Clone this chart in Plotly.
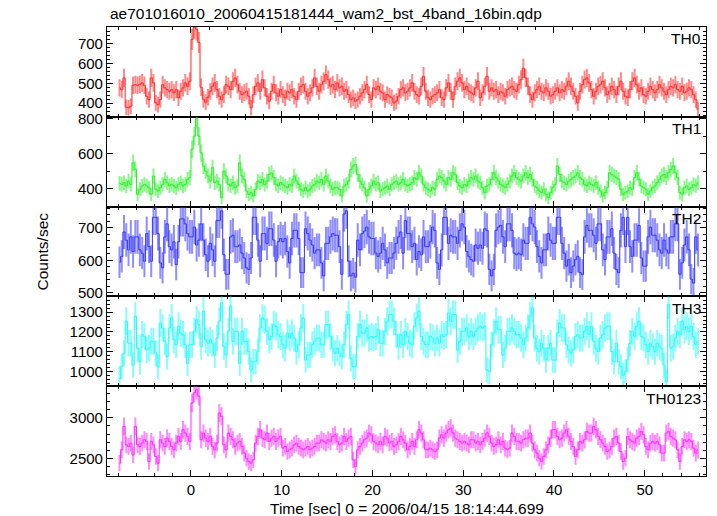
import numpy as np
import plotly.graph_objects as go
from plotly.subplots import make_subplots

# ---------------- data ----------------
BIN_SEC = 0.25          # 16 x 1/64 s WAM bins
T_START = -8.0
title_text = "ae701016010_20060415181444_wam2_bst_4band_16bin.qdp"
x_title = "Time [sec] 0 = 2006/04/15 18:14:44.699"
y_title = "Counts/sec"
band_names = ["TH0", "TH1", "TH2", "TH3", "TH0123"]

th0 = [
    477, 468, 527, 380, 377, 385, 490, 493, 490, 495, 502, 490, 435, 418, 527, 502,
    402, 393, 418, 493, 477, 468, 460, 468, 452, 468, 427, 460, 477, 502, 485, 510,
    720, 780, 770, 705, 480, 420, 405, 430, 460, 485, 502, 468, 435, 418, 443, 493,
    485, 468, 510, 527, 493, 460, 443, 452, 460, 435, 377, 443, 485, 502, 460, 518,
    477, 435, 410, 460, 493, 452, 435, 468, 443, 427, 460, 452, 468, 435, 418, 460,
    485, 493, 460, 435, 452, 477, 527, 485, 460, 493, 510, 543, 518, 485, 493, 468,
    502, 477, 485, 460, 468, 443, 418, 427, 410, 418, 435, 452, 468, 493, 443, 418,
    477, 468, 485, 460, 452, 418, 443, 435, 427, 402, 410, 435, 468, 477, 452, 460,
    477, 502, 460, 443, 435, 485, 535, 460, 427, 418, 435, 443, 452, 468, 427, 418,
    477, 502, 460, 418, 485, 510, 527, 502, 468, 485, 460, 452, 443, 477, 510, 427,
    452, 485, 535, 460, 477, 460, 468, 443, 460, 452, 435, 468, 477, 485, 468, 460,
    493, 518, 575, 527, 485, 443, 418, 452, 468, 485, 460, 452, 477, 460, 435, 443,
    460, 477, 452, 468, 460, 485, 510, 485, 460, 435, 402, 460, 493, 518, 527, 502,
    468, 435, 460, 485, 493, 510, 477, 443, 460, 485, 468, 443, 485, 510, 460, 435,
    427, 468, 510, 527, 493, 460, 477, 443, 435, 460, 485, 468, 452, 468, 493, 477,
    460, 443, 468, 485, 477, 493, 468, 460, 485, 452, 460, 477, 468, 443, 418, 370,
]

th1 = [
    430, 424, 434, 415, 443, 424, 548, 510, 367, 396, 415, 424, 415, 405, 367, 472,
    396, 386, 405, 424, 453, 434, 415, 424, 415, 405, 424, 434, 415, 424, 453, 463,
    625, 700, 800, 700, 605, 529, 500, 472, 443, 520, 434, 443, 424, 348, 500, 472,
    424, 415, 434, 405, 415, 548, 472, 453, 386, 367, 377, 358, 396, 443, 434, 453,
    424, 443, 481, 490, 463, 424, 415, 434, 424, 415, 405, 424, 415, 472, 443, 424,
    396, 386, 405, 386, 396, 415, 424, 443, 434, 453, 424, 472, 443, 415, 396, 405,
    405, 396, 358, 415, 424, 443, 510, 529, 538, 481, 443, 424, 405, 358, 396, 415,
    443, 424, 434, 386, 396, 405, 415, 396, 424, 434, 443, 424, 434, 453, 424, 415,
    424, 434, 463, 453, 491, 472, 424, 405, 396, 386, 405, 396, 453, 472, 463, 443,
    424, 463, 453, 491, 481, 434, 415, 405, 424, 415, 443, 463, 453, 472, 443, 434,
    405, 377, 415, 424, 453, 491, 463, 443, 424, 415, 405, 424, 443, 472, 491, 463,
    453, 443, 472, 491, 463, 481, 453, 415, 405, 386, 377, 396, 367, 348, 377, 405,
    424, 529, 481, 443, 434, 424, 443, 453, 463, 472, 491, 463, 453, 424, 415, 434,
    424, 415, 434, 405, 386, 358, 377, 405, 491, 481, 472, 463, 453, 396, 367, 377,
    386, 405, 396, 463, 491, 453, 415, 405, 396, 367, 386, 405, 415, 434, 453, 472,
    481, 463, 491, 510, 529, 491, 463, 377, 367, 405, 415, 396, 405, 424, 415, 434,
]

th2 = [
    594, 612, 687, 662, 632, 672, 627, 672, 672, 632, 622, 597, 682, 642, 597, 732,
    732, 682, 592, 577, 672, 712, 642, 632, 657, 587, 657, 727, 727, 712, 682, 672,
    672, 702, 647, 662, 712, 662, 617, 597, 652, 632, 597, 722, 722, 752, 617, 557,
    557, 672, 677, 642, 642, 647, 622, 607, 577, 572, 607, 732, 732, 662, 597, 682,
    682, 652, 697, 697, 662, 597, 657, 667, 657, 667, 627, 592, 667, 692, 692, 667,
    562, 562, 697, 682, 662, 647, 622, 632, 632, 592, 552, 652, 652, 672, 682, 677,
    677, 642, 557, 742, 752, 597, 552, 560, 548, 662, 632, 682, 690, 702, 672, 667,
    667, 622, 612, 622, 652, 632, 592, 607, 607, 622, 652, 672, 687, 622, 722, 682,
    682, 642, 652, 602, 627, 617, 672, 642, 642, 657, 702, 692, 592, 572, 632, 732,
    732, 652, 677, 672, 672, 652, 692, 712, 702, 627, 612, 602, 597, 647, 637, 647,
    637, 697, 692, 572, 552, 572, 692, 702, 707, 672, 642, 712, 712, 692, 622, 617,
    622, 617, 662, 652, 652, 732, 712, 702, 642, 612, 592, 632, 632, 682, 662, 652,
    652, 732, 732, 652, 622, 582, 602, 562, 582, 602, 612, 562, 556, 672, 707, 692,
    692, 677, 652, 712, 712, 632, 602, 672, 672, 697, 622, 572, 562, 692, 732, 642,
    732, 642, 612, 662, 662, 707, 607, 582, 582, 672, 702, 677, 677, 662, 632, 622,
    662, 632, 622, 672, 672, 712, 712, 557, 592, 647, 672, 632, 542, 530, 672, 632,
]

th3 = [
    964, 1024, 1092, 1254, 1143, 1143, 1032, 1280, 1117, 1049, 1186, 1177, 1109, 1117, 1152, 1152,
    1092, 1024, 1245, 1220, 1152, 1075, 1220, 1271, 1160, 1135, 1229, 1194, 1186, 1135, 1040, 1135,
    1135, 1203, 1262, 1237, 1126, 1305, 1160, 1143, 1160, 1143, 1083, 1169, 1254, 1348, 1126, 1083,
    1203, 1331, 1152, 1203, 1203, 1041, 1203, 1152, 1152, 1100, 1007, 1049, 1049, 1100, 1220, 1271,
    1262, 1203, 1160, 1177, 1237, 1229, 1186, 1177, 1135, 1117, 1194, 1169, 1194, 1169, 1100, 1135,
    1220, 1271, 1058, 1083, 1083, 1135, 1152, 1169, 1169, 1135, 1135, 1237, 1237, 1177, 1117, 1092,
    1117, 1092, 1075, 1135, 1237, 1288, 1066, 1024, 1024, 1177, 1237, 1194, 1194, 1220, 1169, 1177,
    1169, 1177, 1211, 1143, 1143, 1203, 1254, 1288, 1288, 1254, 1186, 1126, 1186, 1135, 1203, 1177,
    1143, 1135, 1229, 1271, 1305, 1177, 1152, 1135, 1135, 1177, 1169, 1143, 1169, 1143, 1186, 1177,
    1186, 1296, 1254, 1288, 1288, 1109, 1152, 1203, 1203, 1220, 1177, 1203, 1177, 1203, 1220, 1229,
    1220, 1229, 1007, 998, 1135, 1194, 1254, 1211, 1211, 1083, 1117, 1203, 1203, 1220, 1203, 1186,
    1186, 1169, 1135, 1169, 1220, 1280, 1322, 1169, 1117, 1100, 1143, 1117, 1058, 1117, 1143, 1058,
    1057, 1194, 1245, 1220, 1220, 1135, 1109, 1092, 1109, 1177, 1186, 1169, 1169, 1203, 1229, 1186,
    1229, 1152, 1117, 1100, 1169, 1186, 1220, 1229, 1229, 1100, 1049, 1143, 1049, 1024, 981, 998,
    1058, 1143, 1203, 1177, 1229, 1254, 1177, 1169, 1135, 1100, 1143, 1126, 1100, 1143, 1126, 1117,
    1032, 947, 1340, 1117, 1126, 1169, 1203, 1186, 1254, 1211, 1229, 1203, 1229, 1177, 1135, 1152,
]

th0123 = [
    2443, 2607, 2894, 2668, 2648, 2689, 2545, 2894, 2668, 2648, 2689, 2730, 2710, 2463, 2710, 2668,
    2525, 2443, 2730, 2689, 2648, 2750, 2710, 2648, 2607, 2689, 2771, 2710, 2853, 2812, 2771, 2710,
    3181, 3304, 3345, 3263, 2730, 2812, 2750, 2710, 2771, 2648, 2607, 2689, 3058, 3017, 2668, 2607,
    2812, 2771, 2730, 2648, 2689, 2710, 2648, 2566, 2504, 2463, 2443, 2484, 2689, 2771, 2853, 2750,
    2730, 2812, 2710, 2750, 2771, 2710, 2750, 2771, 2627, 2648, 2586, 2607, 2627, 2668, 2689, 2648,
    2627, 2607, 2627, 2648, 2607, 2627, 2648, 2689, 2689, 2730, 2710, 2689, 2730, 2710, 2771, 2791,
    2710, 2668, 2689, 2771, 2710, 2750, 2771, 2484, 2402, 2607, 2648, 2689, 2730, 2750, 2812, 2791,
    2710, 2689, 2668, 2710, 2668, 2771, 2750, 2689, 2710, 2648, 2668, 2710, 2771, 2730, 2689, 2607,
    2648, 2710, 2648, 2730, 2853, 2812, 2730, 2607, 2607, 2627, 2607, 2586, 2607, 2750, 2791, 2750,
    2812, 2853, 2873, 2812, 2750, 2730, 2710, 2689, 2710, 2689, 2668, 2730, 2730, 2689, 2710, 2668,
    2710, 2750, 2812, 2771, 2689, 2648, 2668, 2730, 2668, 2710, 2627, 2607, 2627, 2812, 2771, 2710,
    2710, 2689, 2730, 2750, 2750, 2812, 2689, 2607, 2566, 2504, 2463, 2525, 2607, 2668, 2750, 2853,
    2853, 2771, 2730, 2750, 2812, 2853, 2771, 2710, 2648, 2525, 2607, 2710, 2689, 2730, 2832, 2812,
    2812, 2894, 2853, 2771, 2730, 2689, 2648, 2586, 2607, 2648, 2750, 2771, 2689, 2586, 2463, 2504,
    2771, 2730, 2710, 2689, 2750, 2771, 2832, 2791, 2648, 2607, 2689, 2710, 2689, 2710, 2668, 2566,
    2566, 2812, 2832, 2771, 2750, 2730, 2607, 2463, 2648, 2730, 2710, 2730, 2710, 2627, 2566, 2607,
]

series = [th0, th1, th2, th3, th0123]
line_colors = ["rgb(255,40,40)", "rgb(40,240,40)", "rgb(50,50,255)",
               "rgb(40,250,250)", "rgb(255,40,255)"]
err_colors = ["rgba(255,40,40,0.55)", "rgba(40,240,40,0.55)", "rgba(50,50,255,0.55)",
              "rgba(40,250,250,0.55)", "rgba(255,40,255,0.55)"]
y_ranges = [[332, 782], [297, 811], [489, 765], [925, 1380], [2286, 3386]]
y_dticks = [100, 200, 100, 100, 500]
y_minor = [20, 100, 20, 20, 100]
x_range = [-9.25, 56.75]

# ---------------- figure ----------------
FONT = "Liberation Sans, Arial, Helvetica, sans-serif"
fig = make_subplots(rows=5, cols=1, shared_xaxes=True, vertical_spacing=0)

for k, vals in enumerate(series):
    v = np.array(vals, dtype=float)
    t = T_START + BIN_SEC * (np.arange(len(v)) + 0.5)
    err = np.sqrt(v / BIN_SEC)       # Poisson error of the binned rate
    fig.add_trace(go.Scatter(
        x=t, y=v, mode="lines", line=dict(color=line_colors[k], width=1, shape="hvh"),
        error_y=dict(type="data", array=err, visible=True, color=err_colors[k],
                     thickness=2, width=0),
        showlegend=False, hoverinfo="skip"), row=k + 1, col=1)

    fig.update_yaxes(row=k + 1, col=1, range=y_ranges[k], dtick=y_dticks[k],
                     ticks="inside", ticklen=6, tickwidth=1, tickcolor="black",
                     minor=dict(dtick=y_minor[k], ticks="inside", ticklen=3, tickcolor="black"),
                     showline=True, linecolor="black", linewidth=1.1, mirror="allticks",
                     showgrid=False, zeroline=False, automargin=False,
                     tickfont=dict(family=FONT, size=15, color="black"))
    fig.update_xaxes(row=k + 1, col=1, range=x_range, dtick=10,
                     ticks="inside", ticklen=6, tickwidth=1, tickcolor="black",
                     minor=dict(dtick=2, ticks="inside", ticklen=3, tickcolor="black"),
                     showline=True, linecolor="black", linewidth=1.1, mirror="allticks",
                     showgrid=False, zeroline=False, showticklabels=(k == 4), automargin=False,
                     tickfont=dict(family=FONT, size=15, color="black"))

W, H = 717, 516
ML, MT, MR, MB = 107, 27, 11, 40
fig.update_layout(
    width=W, height=H, margin=dict(l=ML, r=MR, t=MT, b=MB),
    paper_bgcolor="white", plot_bgcolor="white",
    font=dict(family=FONT, size=15, color="black"),
)

plot_h = H - MT - MB
plot_w = W - ML - MR
annotations = []
for k, name in enumerate(band_names):
    top_px = plot_h * k / 5.0
    annotations.append(dict(text=name, xref="paper", yref="paper",
                            x=1 - 3.0 / plot_w, y=1 - (top_px + 12) / plot_h,
                            xanchor="right", yanchor="middle", showarrow=False,
                            font=dict(family=FONT, size=15.5, color="black")))
annotations.append(dict(text=title_text, xref="paper", yref="paper",
                        x=1.0 / plot_w, y=1 + (MT - 13) / plot_h,
                        xanchor="left", yanchor="middle", showarrow=False,
                        font=dict(family=FONT, size=15.5, color="black")))
annotations.append(dict(text=x_title, xref="paper", yref="paper",
                        x=0.5, y=-(508 - (H - MB)) / plot_h,
                        xanchor="center", yanchor="middle", showarrow=False,
                        font=dict(family=FONT, size=15.5, color="black")))
annotations.append(dict(text=y_title, xref="paper", yref="paper",
                        x=-(ML - 42) / plot_w, y=0.5, textangle=-90,
                        xanchor="center", yanchor="middle", showarrow=False,
                        font=dict(family=FONT, size=15.5, color="black")))
fig.update_layout(annotations=annotations)

# remove the default 8 px page margin so the 717x516 figure fills the window exactly
fig.write_html("out.html", config={"displayModeBar": False},
               post_script="document.body.style.margin='0';")
